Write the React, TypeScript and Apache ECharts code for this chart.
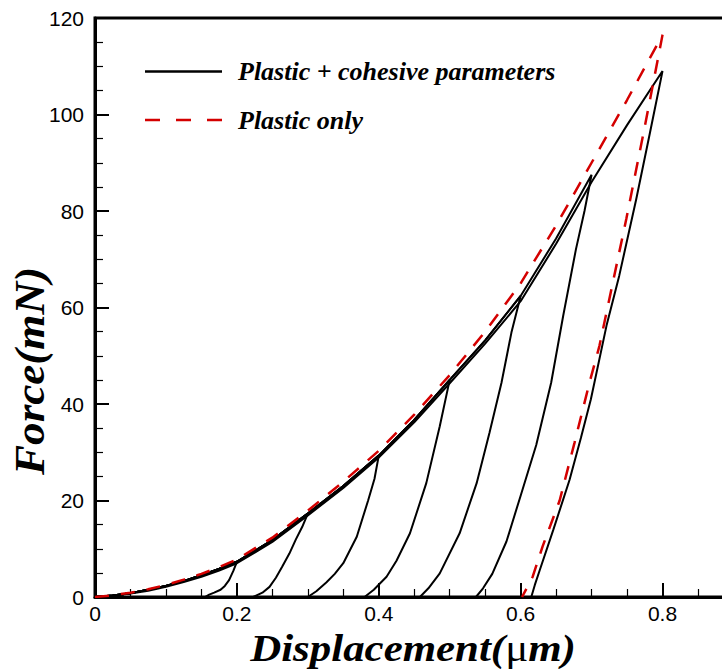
import React, { useEffect, useRef } from "react";
import * as echarts from "echarts";

// Depth grid (µm) shared by the loading branches
const loadX = [0, 0.025, 0.05, 0.075, 0.1, 0.125, 0.15, 0.175, 0.2, 0.25, 0.3, 0.35, 0.4, 0.45, 0.5, 0.55, 0.6, 0.65, 0.7, 0.75, 0.8];

// Loading force (mN), plastic + cohesive, runs up to 0.7 µm
const cohesiveLoad = [0, 0.3, 0.8, 1.5, 2.3, 3.3, 4.5, 5.8, 7.3, 11.8, 17.3, 23.0, 29.3, 36.7, 45.0, 53.2, 62.4, 74.3, 87.5];
// Loading force (mN), plastic + cohesive, deepest run (0.8 µm)
const cohesiveLoadDeep = [0, 0.25, 0.7, 1.3, 2.1, 3.1, 4.2, 5.5, 7.0, 11.4, 16.9, 22.6, 28.9, 36.2, 44.3, 52.5, 61.3, 73.2, 86.0, 97.8, 109.0];
// Loading force (mN), plastic only
const plasticLoad = [0, 0.35, 0.9, 1.6, 2.5, 3.6, 4.8, 6.2, 7.8, 12.3, 17.9, 23.9, 30.3, 37.8, 46.0, 55.0, 65.0, 77.0, 90.0, 103.0, 116.5];

// Maximum depths of the cohesive runs
const peakDepths = [0.2, 0.3, 0.4, 0.5, 0.6, 0.7, 0.8];

// Unloading branches [depth, force] (after each peak)
const unload02 = [[0.195, 5.4], [0.189, 3.5], [0.183, 2.3], [0.177, 1.5], [0.168, 0.9], [0.161, 0.5], [0.155, 0]];
const unload03 = [[0.292, 14.5], [0.283, 11.9], [0.274, 9.0], [0.264, 6.3], [0.255, 4.0], [0.246, 2.1], [0.236, 0.9], [0.227, 0.3], [0.223, 0]];
const unload04 = [[0.394, 24.5], [0.385, 20.0], [0.369, 12.5], [0.35, 7.0], [0.338, 4.8], [0.326, 3.0], [0.312, 1.2], [0.3, 0]];
const unload05 = [[0.486, 35.4], [0.467, 23.6], [0.444, 13.2], [0.425, 7.5], [0.411, 4.2], [0.393, 1.5], [0.38, 0]];
const unload06 = [[0.587, 54.8], [0.573, 44.4], [0.556, 34.0], [0.538, 23.6], [0.514, 13.2], [0.486, 4.9], [0.47, 1.8], [0.458, 0]];
const unload07 = [[0.69, 80.0], [0.678, 72.1], [0.66, 58.3], [0.643, 44.4], [0.622, 31.5], [0.6, 21.0], [0.58, 11.5], [0.56, 4.8], [0.547, 1.8], [0.537, 0]];
const unload08 = [[0.782, 96.0], [0.763, 82.5], [0.739, 66.6], [0.721, 56.2], [0.699, 41.0], [0.685, 33.0], [0.669, 24.3], [0.646, 13.9], [0.627, 5.6], [0.62, 2.5], [0.615, 0]];
const unloadPlastic = [[0.775, 97.5], [0.749, 78.4], [0.728, 63.8], [0.711, 52.0], [0.697, 44.4], [0.676, 32.0], [0.655, 20.0], [0.631, 10.5], [0.617, 4.2], [0.602, 0]];

const unloadCohesive = [unload02, unload03, unload04, unload05, unload06, unload07, unload08];

const xTicks = [0, 0.2, 0.4, 0.6, 0.8];
const yTicks = [0, 20, 40, 60, 80, 100, 120];

const NAME_C = "Plastic + cohesive parameters";
const NAME_P = "Plastic only";

function loadingTo(ys: number[], peak: number): number[][] {
  const out: number[][] = [];
  for (let i = 0; i < ys.length; i++) {
    if (loadX[i] <= peak + 1e-9) out.push([loadX[i], ys[i]]);
  }
  return out;
}

export default function App() {
  const ref = useRef<HTMLDivElement>(null);
  useEffect(() => {
    if (!ref.current) return;
    const chart = echarts.init(ref.current, undefined, { renderer: "svg" });
    const serif = "'Liberation Serif', 'Times New Roman', serif";
    const sans = "'Liberation Sans', Arial, sans-serif";

    const series: any[] = peakDepths.map((p, k) => {
      const ys = p > 0.75 ? cohesiveLoadDeep : cohesiveLoad;
      return {
        name: NAME_C,
        type: "line",
        symbol: "none",
        showSymbol: false,
        smooth: false,
        data: loadingTo(ys, p).concat(unloadCohesive[k]),
        lineStyle: { color: "#000", width: 2, type: "solid" },
        itemStyle: { color: "#000" },
        z: 2,
      };
    });
    series.push({
      name: NAME_P,
      type: "line",
      symbol: "none",
      showSymbol: false,
      smooth: false,
      data: loadingTo(plasticLoad, 0.8).concat(unloadPlastic),
      lineStyle: { color: "#d40000", width: 2.5, type: [14, 12] },
      itemStyle: { color: "#d40000" },
      z: 3,
    });

    const legendText = {
      fontFamily: serif,
      fontSize: 26,
      fontWeight: "bold",
      fontStyle: "italic",
      fill: "#000",
      textAlign: "left",
      textVerticalAlign: "middle",
      align: "left",
      verticalAlign: "middle",
    };

    chart.setOption({
      animation: false,
      grid: {
        left: 95,
        top: 18,
        width: 709.4,
        height: 579,
        show: true,
        borderColor: "#000",
        borderWidth: 3,
        backgroundColor: "transparent",
      },
      xAxis: {
        type: "value",
        min: xTicks[0],
        max: 1.0,
        interval: 0.2,
        axisLine: { show: true, onZero: false, lineStyle: { color: "#000", width: 3 } },
        axisTick: { show: true, inside: true, length: 14, lineStyle: { color: "#000", width: 2 } },
        minorTick: { show: true, splitNumber: 4, length: 8, lineStyle: { color: "#000", width: 1.2 } },
        splitLine: { show: false },
        axisLabel: {
          margin: 6,
          fontFamily: sans,
          fontSize: 21,
          color: "#000",
          formatter: (v: number) => (xTicks.some((t) => Math.abs(t - v) < 1e-9) ? String(+v.toFixed(1)) : ""),
        },
      },
      yAxis: {
        type: "value",
        min: yTicks[0],
        max: yTicks[yTicks.length - 1],
        interval: 20,
        axisLine: { show: true, onZero: false, lineStyle: { color: "#000", width: 3 } },
        axisTick: { show: true, inside: true, length: 14, lineStyle: { color: "#000", width: 2 } },
        minorTick: { show: true, splitNumber: 4, length: 8, lineStyle: { color: "#000", width: 1.2 } },
        splitLine: { show: false },
        axisLabel: { margin: 11, fontFamily: sans, fontSize: 21, color: "#000" },
      },
      graphic: [
        {
          type: "line",
          shape: { x1: 145, y1: 71.5, x2: 222, y2: 71.5 },
          style: { stroke: "#000", lineWidth: 2.5 },
        },
        { type: "text", x: 238, y: 71.5, style: { ...legendText, text: NAME_C } },
        {
          type: "line",
          shape: { x1: 145, y1: 120, x2: 222, y2: 120 },
          style: { stroke: "#d40000", lineWidth: 2.5, lineDash: [15, 16] },
        },
        { type: "text", x: 238, y: 120, style: { ...legendText, text: NAME_P } },
        {
          type: "text",
          x: 30,
          y: 371,
          rotation: Math.PI / 2,
          scaleX: 1.05,
          style: {
            text: "Force(mN)",
            fontFamily: serif,
            fontSize: 43,
            fontWeight: "bold",
            fontStyle: "italic",
            fill: "#000",
            textAlign: "center",
            textVerticalAlign: "middle",
            align: "center",
            verticalAlign: "middle",
          },
        },
        {
          type: "text",
          x: 413,
          y: 649,
          scaleX: 1.16,
          style: {
            text: "{a|Displacement(}{b|μ}{a|m)}",
            fill: "#000",
            textAlign: "center",
            textVerticalAlign: "middle",
            align: "center",
            verticalAlign: "middle",
            rich: {
              a: { fontFamily: serif, fontSize: 37, fontWeight: "bold", fontStyle: "italic", fill: "#000", color: "#000" },
              b: { fontFamily: serif, fontSize: 37, fontWeight: "normal", fontStyle: "normal", fill: "#000", color: "#000" },
            },
          },
        },
      ],
      series,
    });
    return () => chart.dispose();
  }, []);
  return (
    <div
      style={{ position: "fixed", left: 0, top: 0, width: 722, height: 669, overflow: "hidden", background: "#fff" }}
    >
      <div ref={ref} style={{ width: 812, height: 669 }} />
    </div>
  );
}
